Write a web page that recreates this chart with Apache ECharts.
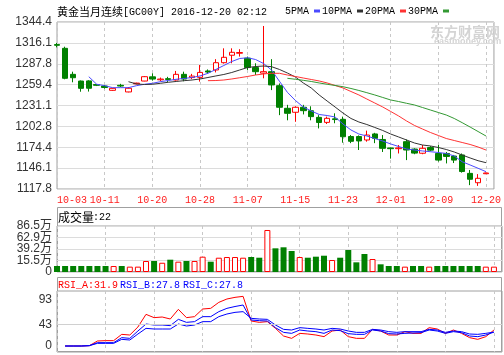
<!DOCTYPE html>
<html>
<head>
<meta charset="utf-8">
<style>
html,body{margin:0;padding:0;background:#fff}
#chart{width:504px;height:355px}
</style>
<script src="https://cdn.jsdelivr.net/npm/echarts@6/dist/echarts.min.js"></script>
</head>
<body>
<div id="chart"></div>
<script>
// 日期
var dates = ['10-03','10-04','10-05','10-06','10-07','10-10','10-11','10-12','10-13','10-14','10-17','10-18','10-20','10-21','10-24','10-25','10-26','10-27','10-28','10-31',
  '11-01','11-02','11-03','11-04','11-07','11-08','11-09','11-10','11-11','11-14','11-15','11-16','11-17','11-18','11-21','11-22','11-23','11-24','11-25','11-28',
  '11-29','11-30','12-01','12-02','12-05','12-06','12-07','12-08','12-09','12-13','12-14','12-15','12-16','12-19','12-20'];

// K线 开 收 低 高
var opens  = [1313.8,1308.7,1273.4,1264.3,1264.5,1259.5,1257.5,1251.7,1258.5,1249.5,1260.5,1264.3,1270,1266,1267.5,1265.7,1273.4,1269,1269.3,1278,
  1279.3,1289.2,1299.3,1302,1295.3,1282.6,1275,1277,1258,1227.3,1221.9,1228.7,1224,1215,1208.2,1213,1212.3,1189,1189,1184.3,
  1192.5,1185,1173.5,1172.5,1182,1172,1166.3,1174,1166,1166,1162.5,1164,1139,1126.3,1138.5];
var closes = [1312.8,1268,1268.8,1254.4,1254.5,1258.5,1255.5,1254.4,1257.5,1254.5,1261.5,1270.2,1267,1267,1266.5,1273.4,1267,1271,1276,1276.5,
  1289.2,1296.5,1303.3,1303,1282.6,1277,1277,1259,1228.7,1220.5,1228.7,1224.1,1216,1208,1213.7,1212,1188.7,1182.5,1183,1191,
  1186.5,1173,1172.5,1173.5,1170.7,1166.5,1173,1170.5,1157,1162,1157,1141.5,1131,1132.3,1139.5];
var lows   = [1310,1266.7,1262.6,1249.8,1250,1257.5,1254,1251,1256,1249,1260,1264,1264.8,1264,1263,1265,1264,1267,1263.5,1274,
  1276,1288,1288.4,1297.5,1279.3,1272.5,1268,1252,1218,1211,1209,1219,1211,1200,1206,1207,1180.6,1180,1170.7,1182,
  1180,1168,1159,1166,1157,1165,1165,1169,1155,1152.5,1153,1140,1123,1122,1138];
var highs  = [1316,1310.9,1277,1265,1265.5,1260,1259,1255,1260.5,1256,1262,1271,1274.8,1269,1270,1278,1277,1274,1286,1280,
  1294,1308.7,1308.7,1307.5,1297.5,1288.4,1339,1294,1261,1232,1230,1232,1230,1218,1216,1220.5,1216,1191,1190.5,1197,
  1194,1191,1174,1177.5,1185,1173,1177.5,1176,1177.5,1168,1164,1166,1143.6,1138,1140];

// 均线
var ma5  = [1270.2,1259.9,1258.0,1255.3,1255.3,1255.3,1258.0,1259.9,1261.2,1263.4,1265.0,1266.7,1267.8,1269.1,1271.2,1274.8,1280.0,1285.4,1290.8,1294.9,
  1295.9,1293.5,1288.1,1279.3,1264.0,1249.0,1238.0,1229.1,1223.7,1218.9,1217.5,1215.5,1206.0,1197.9,1192.4,1189.7,1186.3,1182.9,1178.9,1175.5,
  1172.1,1170.7,1169.4,1168.4,1167.3,1166.0,1162.6,1154.8,1150.4,1145.9,1141.3];
var ma10 = [1263.4,1260.3,1259.6,1259.9,1261.2,1262.6,1263.7,1264.8,1265.7,1267.1,1269.1,1271.2,1273.2,1275.9,1279.3,1282.7,1284.0,1284.7,1283.8,1280.0,
  1275.2,1269.8,1261.7,1254.9,1245.4,1237.2,1229.1,1220.9,1213.5,1208.7,1205.3,1201.3,1197.2,1192.4,1188.4,1184.3,1180.2,1177.5,1176.2,1174.1,
  1171.4,1168.0,1163.9,1159.9,1156.2,1153.5];
var ma20 = [1264.8,1265.0,1265.7,1267.1,1268.8,1270.5,1272.5,1273.9,1274.8,1274.8,1272.5,1270.5,1268.4,1266.4,1264.4,1261.7,1258.3,1254.9,1250.1,1245.4,
  1239.9,1234.5,1229.1,1223.0,1216.9,1210.1,1204.0,1199.2,1194.5,1190.4,1186.3,1183.6,1180.9,1178.2,1174.8,1170.7];
var ma30 = [1268.0,1266.7,1265.3,1263.7,1261.7,1259.9,1258.3,1256.6,1254.2,1251.5,1248.5,1245.4,1242.0,1238.6,1236.5,1234.1,1231.8,1228.4,1225.0,1221.6,
  1218.2,1213.5,1207.8,1201.9,1195.8,1189.7];

// 成交量
var volumes = [12.3,12.3,12.3,12.3,12.3,12.3,12.3,12.3,12.3,11,11,22.6,22.6,19,25.3,21.2,22.6,22.6,31.5,21.2,
  29.4,30.8,30.8,29.4,30.8,29.4,86.4,48.7,50.8,43.2,30.8,29.4,31.5,33.5,24.7,29.4,45.2,19.9,37,26.7,
  15.8,12.3,12.3,11,12.3,12.3,11,12.3,12.3,12.3,12.3,12.3,12.3,11,11];
var volTicks = [0, 23.65, 47.3, 70.95, 94.6];
var volTickLabels = ['0','15.5万','39.2万','62.9万','86.5万'];
var lastVolume = 22;

// RSI
var rsiA = [0,0,0,0.7,10,10.7,10.7,23.3,22,38,63.3,56.7,58,54,73.3,56.7,58.7,74,75.3,87.3,94,97.3,99.3,
  50,47.3,48.7,35.3,20,15.3,25.3,24,22,18.7,30,32,18.7,15.3,15.3,33.3,30,22,22,28.7,25.3,25.3,36.7,34,25.3,32,25.3,16.7,13.3,18.7,31.9];
var rsiB = [0,0,0,0.7,6.7,6.7,6.7,16.7,15.3,30,44,42,42,40.7,53.3,47.3,48.7,58.7,58.7,68.7,75.3,79,82,
  52,50.7,50,36.7,27.3,25.3,32,30,28.7,25.3,32,30.7,24.7,23.3,23.3,32,30,24.7,24,25.3,26,26.7,32,30,25.3,28.7,26.7,20,18.7,22,27.8];
var rsiC = [0,0,0,0.7,5.3,5.3,5.3,13.3,12,24,35.3,34,34,34,44,40,42,48.7,48.7,58.7,64,67.3,68.7,
  55.3,54,53.3,42,33.3,32,36.7,35.3,34,32,35.3,34,30,27.3,27.3,33.3,32,28.7,27.3,28.7,28.7,28.7,33.3,32,27.3,30,28.7,24,23.3,25.3,27.8];
var rsiTicks = [0, 43, 93];
var rsiLast = [31.9, 27.8, 27.8];

function pad(arr, n) {
  var out = [];
  for (var i = 0; i < n; i++) out.push('-');
  return out.concat(arr);
}

var UP = '#ff0000', DOWN = '#008000';
var xCats = dates.concat(['']);
var every6 = function (idx) { return idx % 6 === 0; };
var mono = "'Liberation Mono', monospace";
var cjk = "'Noto Sans CJK SC', sans-serif";

var kData = dates.map(function (d, i) { return [opens[i], closes[i], lows[i], highs[i]]; });
var volData = volumes.map(function (v, i) {
  var up = closes[i] >= opens[i];
  return {
    value: v,
    itemStyle: up ? { color: '#fff', borderColor: UP, borderWidth: 1 } : { color: DOWN, borderColor: DOWN, borderWidth: 0 }
  };
});

function xAxisFor(gi, showLabel) {
  return {
    type: 'category', gridIndex: gi, data: xCats, boundaryGap: false,
    axisLine: { show: false }, axisTick: { show: false },
    axisLabel: showLabel ? {
      interval: every6, color: '#ff2020', fontFamily: mono, fontSize: 10, margin: 6, alignMinLabel: 'left'
    } : { show: false },
    splitLine: { show: true, interval: every6, lineStyle: { color: '#c8c8c8', type: [3, 3] } }
  };
}

var labelStyle = {
  color: '#333', fontSize: 12, fontFamily: "'Liberation Sans', 'Noto Sans CJK SC', sans-serif", margin: 5,
  hideOverlap: false, showMinLabel: true, showMaxLabel: true
};

function volLabel(v) {
  var k = 0;
  for (var i = 1; i < volTicks.length; i++) {
    if (Math.abs(volTicks[i] - v) < Math.abs(volTicks[k] - v)) k = i;
  }
  return volTickLabels[k];
}

// 量能轴拆成两根叠在一起，免得相邻刻度标签被自动隐藏
function volAxis(ticks) {
  return {
    type: 'value', gridIndex: 1, position: 'left', offset: 0, min: 0, max: volTicks[volTicks.length - 1],
    interval: volTicks[1],
    axisLine: { show: false }, axisTick: { show: false },
    axisLabel: Object.assign({}, labelStyle, { customValues: ticks, formatter: volLabel }),
    splitLine: { lineStyle: { color: '#dcdcdc' } }
  };
}

function lineSeries(name, data, color, xi) {
  return {
    name: name, type: 'line', xAxisIndex: xi, yAxisIndex: xi, data: data, color: color,
    symbol: 'none', smooth: false, lineStyle: { width: 1, color: color }
  };
}

var chart = echarts.init(document.getElementById('chart'));
chart.setOption({
  animation: false,
  backgroundColor: '#fff',
  legend: {
    data: ['5PMA', '10PMA', '20PMA', '30PMA'],
    left: 285, top: 6, padding: 0, itemWidth: 6, itemHeight: 3, itemGap: 2,
    align: 'right', icon: 'rect', selectedMode: false,
    textStyle: { fontFamily: mono, fontSize: 10, color: '#000' }
  },
  grid: [
    { left: 57, right: 2, top: 22, height: 167, show: true, borderColor: '#a0a0a0', borderWidth: 1 },
    { left: 57, right: 2, top: 226, height: 46, show: true, borderColor: '#a0a0a0', borderWidth: 1 },
    { left: 57, right: 2, top: 291, height: 61, show: true, borderColor: '#a0a0a0', borderWidth: 1 }
  ],
  xAxis: [xAxisFor(0, true), xAxisFor(1, false), xAxisFor(2, false)],
  yAxis: [
    {
      type: 'value', gridIndex: 0, min: 1117.78, max: 1344.42, interval: 28.33,
      axisLine: { show: false }, axisTick: { show: false },
      axisLabel: Object.assign({ formatter: function (v) { return v.toFixed(1); } }, labelStyle),
      splitLine: { lineStyle: { color: '#dcdcdc' } }
    },
    volAxis([volTicks[0], volTicks[2], volTicks[4]]),
    {
      type: 'value', gridIndex: 2, min: -12, max: 110,
      axisLine: { show: false }, axisTick: { show: false },
      axisLabel: Object.assign({ customValues: rsiTicks }, labelStyle),
      splitLine: { show: false }
    },
    volAxis([volTicks[1], volTicks[3]])
  ],
  series: [
    {
      type: 'candlestick', xAxisIndex: 0, yAxisIndex: 0, data: kData, barWidth: 6, clip: false,
      itemStyle: { color: '#fff', color0: DOWN, borderColor: UP, borderColor0: DOWN, borderWidth: 1 }
    },
    lineSeries('5PMA', pad(ma5, 4), '#4a4aff', 0),
    lineSeries('10PMA', pad(ma10, 9), '#333333', 0),
    lineSeries('20PMA', pad(ma20, 19), '#ff3333', 0),
    lineSeries('30PMA', pad(ma30, 29), '#339933', 0),
    { type: 'bar', xAxisIndex: 1, yAxisIndex: 1, data: volData, barWidth: 6, clip: false },
    Object.assign(lineSeries('RSI_A', pad(rsiA, 1), '#ff0000', 2), {
      markLine: {
        silent: true, symbol: ['none', 'none'], label: { show: false },
        lineStyle: { color: '#d0d0d0', type: 'solid', width: 1 },
        data: [{ yAxis: rsiTicks[1] }]
      }
    }),
    lineSeries('RSI_B', pad(rsiB, 1), '#0000ff', 2),
    lineSeries('RSI_C', pad(rsiC, 1), '#0000ff', 2)
  ],
  graphic: [
    { type: 'text', x: 57, y: 12, style: { text: '黄金当月连续', font: '11px ' + cjk, fill: '#000', verticalAlign: 'middle', textVerticalAlign: 'middle' } },
    { type: 'text', x: 123, y: 12, style: { text: '[GC00Y] 2016-12-20 02:12', font: '10px ' + mono, fill: '#000', verticalAlign: 'middle', textVerticalAlign: 'middle' } },
    { type: 'text', x: 430, y: 32, style: { text: '东方财富网', font: 'bold 14px ' + cjk, fill: '#d4d4d4', verticalAlign: 'middle', textVerticalAlign: 'middle' } },
    { type: 'text', x: 434, y: 42, style: { text: 'eastmoney.com', font: 'bold 9px Arial, sans-serif', fill: '#d4d4d4', verticalAlign: 'middle', textVerticalAlign: 'middle' } },
    { type: 'rect', shape: { x: 57.5, y: 207.5, width: 444, height: 64 }, style: { fill: 'none', stroke: '#a0a0a0', lineWidth: 1 } },
    { type: 'rect', shape: { x: 57.5, y: 277.5, width: 444, height: 74 }, style: { fill: 'none', stroke: '#a0a0a0', lineWidth: 1 } },
    { type: 'text', x: 58, y: 217, style: { text: '成交量', font: '12px ' + cjk, fill: '#000', verticalAlign: 'middle', textVerticalAlign: 'middle' } },
    { type: 'text', x: 93, y: 217, style: { text: ':' + lastVolume, font: '10px ' + mono, fill: '#000', verticalAlign: 'middle', textVerticalAlign: 'middle' } },
    { type: 'text', x: 58, y: 285, style: { text: 'RSI_A:' + rsiLast[0], font: '10px ' + mono, fill: '#ff0000', verticalAlign: 'middle', textVerticalAlign: 'middle' } },
    { type: 'text', x: 120, y: 285, style: { text: 'RSI_B:' + rsiLast[1], font: '10px ' + mono, fill: '#0000ff', verticalAlign: 'middle', textVerticalAlign: 'middle' } },
    { type: 'text', x: 183, y: 285, style: { text: 'RSI_C:' + rsiLast[2], font: '10px ' + mono, fill: '#0000ff', verticalAlign: 'middle', textVerticalAlign: 'middle' } }
  ]
});
</script>
</body>
</html>
